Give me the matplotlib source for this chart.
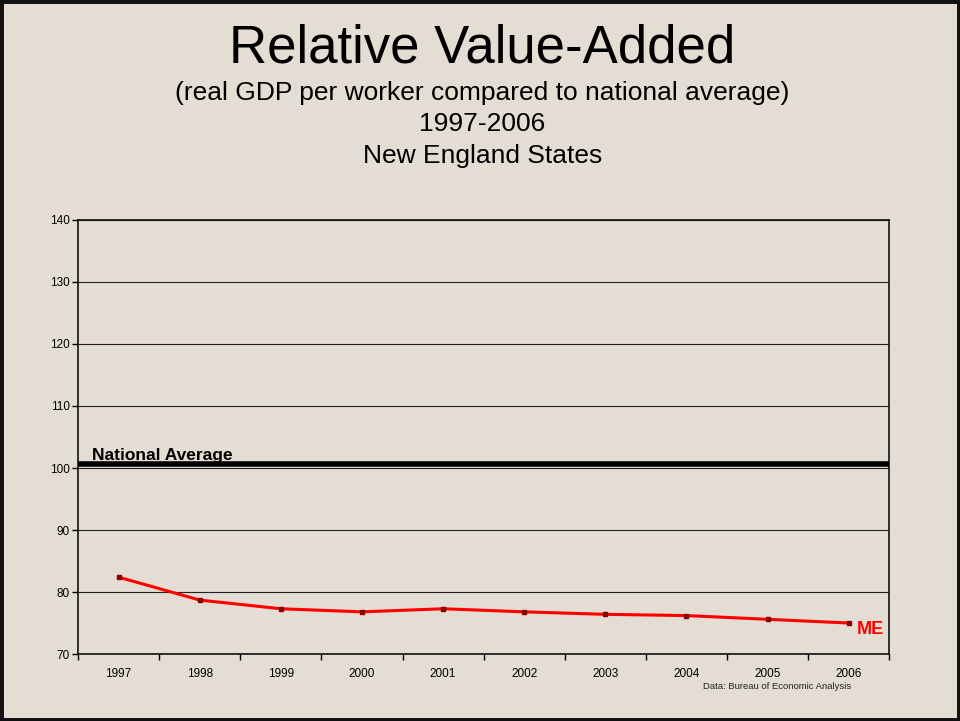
import numpy as np
import matplotlib

matplotlib.use("agg")
import matplotlib.pyplot as plt
from matplotlib.patches import Rectangle

plt.rcParams["font.family"] = ["Liberation Sans", "DejaVu Sans"]

years = ["1997", "1998", "1999", "2000", "2001", "2002", "2003", "2004", "2005", "2006"]
me_values = [82.4, 78.7, 77.3, 76.8, 77.3, 76.8, 76.4, 76.2, 75.6, 75.0]
national_average = 100.6

bg = "#e3ddd3"

fig = plt.figure(figsize=(9.6, 7.21), dpi=100)
fig.patch.set_facecolor(bg)

# slide border
fig.patches.append(Rectangle((0, 0), 1, 1, transform=fig.transFigure, fill=False,
                             edgecolor="#111111", lw=5, zorder=10))

fig.text(0.5026, 0.914, "Relative Value-Added", ha="center", va="baseline", fontsize=38)
fig.text(0.5026, 0.861, "(real GDP per worker compared to national average)",
         ha="center", va="baseline", fontsize=19)
fig.text(0.5026, 0.8187, "1997-2006", ha="center", va="baseline", fontsize=19)
fig.text(0.5026, 0.7744, "New England States", ha="center", va="baseline", fontsize=19)

ax = fig.add_axes([0.0813, 0.0929, 0.845, 0.602])
ax.set_facecolor("none")

x = np.arange(len(years))
ax.plot(x, me_values, color="#ff0000", lw=2.2, marker="s", ms=2.5,
        mfc="#880000", mec="#880000", zorder=4)
ax.axhline(national_average, color="black", lw=4, zorder=3)

ax.set_xlim(-0.5, len(years) - 0.5)
ax.set_ylim(70, 140)
ax.set_yticks(np.arange(70, 141, 10))
ax.yaxis.grid(True, color="#222222", lw=0.8)
ax.set_axisbelow(True)

ax.set_xticks(x)
ax.set_xticklabels(years)
ax.set_xticks(np.arange(-0.5, len(years)), minor=True)
ax.tick_params(axis="x", which="major", length=0, labelsize=8.5, pad=10)
ax.tick_params(axis="x", which="minor", length=4, width=1)
ax.tick_params(axis="y", length=4, width=1, labelsize=8.5, pad=2)

for s in ax.spines.values():
    s.set_color("#111111")
    s.set_linewidth(1.2)

ax.text(-0.33, 100.75, "National Average", fontsize=12.5, fontweight="bold",
        ha="left", va="bottom")
ax.text(9.1, me_values[-1] - 1.1, "ME", color="#ff0000", fontsize=13,
        fontweight="bold", ha="left", va="center")
fig.text(0.809, 0.0476, "Data: Bureau of Economic Analysis", fontsize=6.8,
         ha="center", va="center", color="#222222")

fig.savefig("out.png", dpi=100, facecolor=bg)
